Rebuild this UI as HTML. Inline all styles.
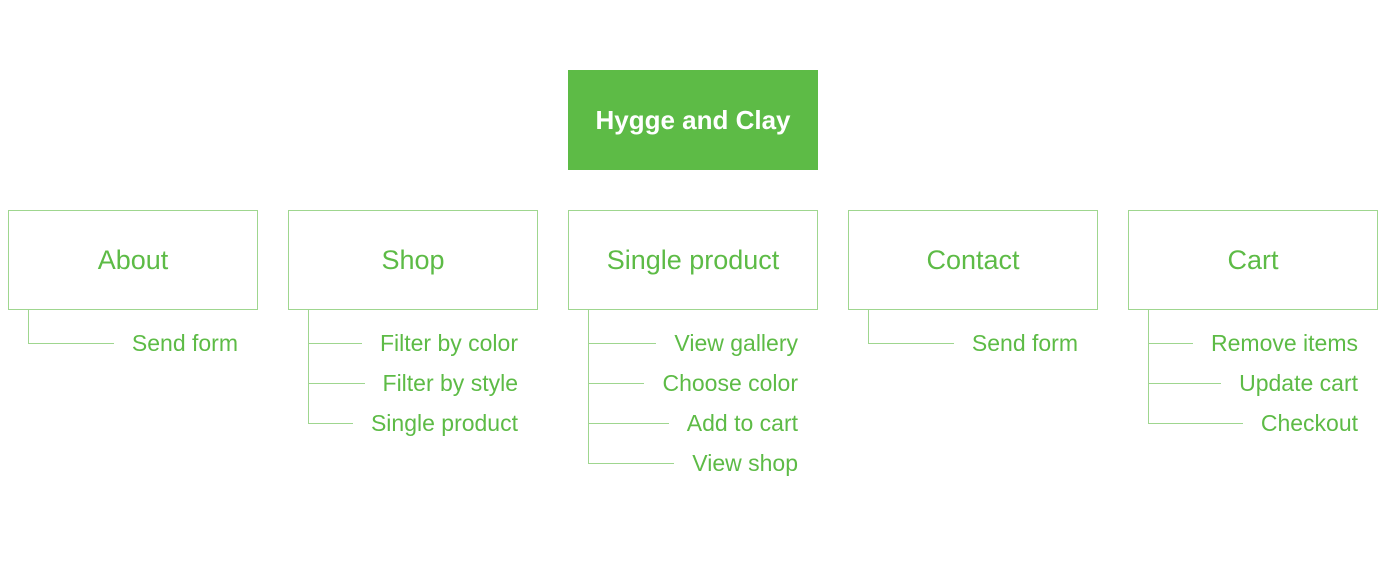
<!DOCTYPE html>
<html><head><meta charset="utf-8"><style>
body{margin:0;width:1387px;height:566px;background:#fff;position:relative;font-family:"Liberation Sans",sans-serif;overflow:hidden}
.top{position:absolute;left:568px;top:70px;width:250px;height:100px;background:#5dbb46;color:#fff;font-weight:bold;font-size:26px;display:flex;align-items:center;justify-content:center}
.box{position:absolute;top:210px;width:248px;height:98px;border:1px solid #9fd68f;color:#5dbb46;font-size:27px;display:flex;align-items:center;justify-content:center}
.v{position:absolute;top:309px;width:1px;background:#9fd68f}
.row{position:absolute;height:20px;display:flex;align-items:center;color:#5dbb46;font-size:23px}
.row .l{flex:1;height:1px;background:#9fd68f}
.row span{margin-left:18px;white-space:nowrap}
</style></head><body>
<div class="top">Hygge and Clay</div>

<div class="box" style="left:8px">About</div>
<div class="v" style="left:28px;height:35px"></div>
<div class="row" style="left:28px;width:210px;top:333px"><div class="l"></div><span>Send form</span></div>

<div class="box" style="left:288px">Shop</div>
<div class="v" style="left:308px;height:115px"></div>
<div class="row" style="left:308px;width:210px;top:333px"><div class="l"></div><span>Filter by color</span></div>
<div class="row" style="left:308px;width:210px;top:373px"><div class="l"></div><span>Filter by style</span></div>
<div class="row" style="left:308px;width:210px;top:413px"><div class="l"></div><span>Single product</span></div>

<div class="box" style="left:568px">Single product</div>
<div class="v" style="left:588px;height:155px"></div>
<div class="row" style="left:588px;width:210px;top:333px"><div class="l"></div><span>View gallery</span></div>
<div class="row" style="left:588px;width:210px;top:373px"><div class="l"></div><span>Choose color</span></div>
<div class="row" style="left:588px;width:210px;top:413px"><div class="l"></div><span>Add to cart</span></div>
<div class="row" style="left:588px;width:210px;top:453px"><div class="l"></div><span>View shop</span></div>

<div class="box" style="left:848px">Contact</div>
<div class="v" style="left:868px;height:35px"></div>
<div class="row" style="left:868px;width:210px;top:333px"><div class="l"></div><span>Send form</span></div>

<div class="box" style="left:1128px">Cart</div>
<div class="v" style="left:1148px;height:115px"></div>
<div class="row" style="left:1148px;width:210px;top:333px"><div class="l"></div><span>Remove items</span></div>
<div class="row" style="left:1148px;width:210px;top:373px"><div class="l"></div><span>Update cart</span></div>
<div class="row" style="left:1148px;width:210px;top:413px"><div class="l"></div><span>Checkout</span></div>
</body></html>
